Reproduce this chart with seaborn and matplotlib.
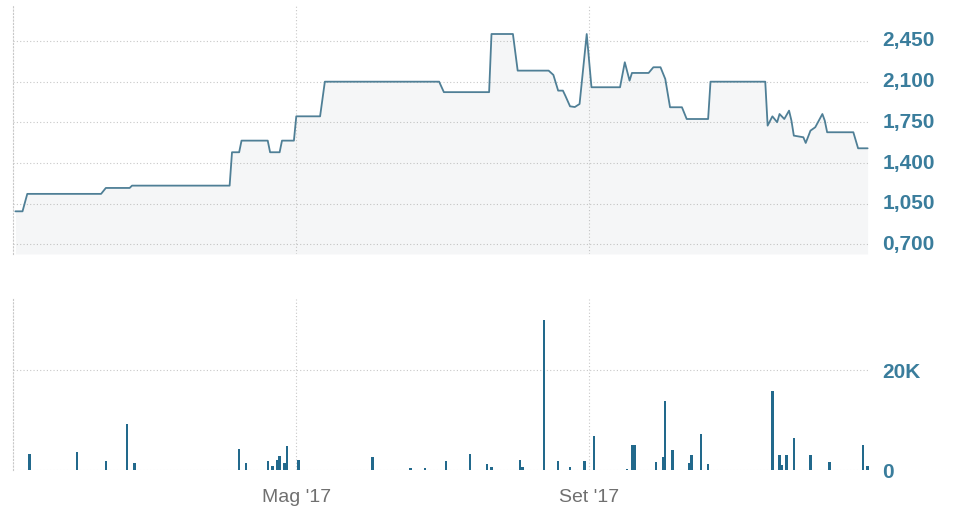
import matplotlib
matplotlib.use("Agg")
import matplotlib.pyplot as plt
import matplotlib.transforms as mtransforms
import seaborn as sns
import pandas as pd

# ---- data ----
price_dates = ["2017-01-03", "2017-01-06", "2017-01-08", "2017-02-08", "2017-02-10",
               "2017-02-20", "2017-02-21", "2017-04-03", "2017-04-04", "2017-04-07",
               "2017-04-08", "2017-04-19", "2017-04-20", "2017-04-24", "2017-04-25",
               "2017-04-30", "2017-05-01", "2017-05-11", "2017-05-13", "2017-06-30",
               "2017-07-02", "2017-07-21", "2017-07-22", "2017-07-31", "2017-08-02",
               "2017-08-15", "2017-08-17", "2017-08-19", "2017-08-21", "2017-08-22",
               "2017-08-24", "2017-08-26", "2017-08-28", "2017-08-31", "2017-09-02",
               "2017-09-14", "2017-09-16", "2017-09-18", "2017-09-19", "2017-09-26",
               "2017-09-28", "2017-10-01", "2017-10-03", "2017-10-05", "2017-10-10",
               "2017-10-12", "2017-10-21", "2017-10-22", "2017-11-14", "2017-11-15",
               "2017-11-17", "2017-11-19", "2017-11-20", "2017-11-22", "2017-11-24",
               "2017-11-25", "2017-11-26", "2017-11-30", "2017-12-01", "2017-12-03",
               "2017-12-05", "2017-12-08", "2017-12-09", "2017-12-10", "2017-12-21",
               "2017-12-23", "2017-12-27"]
price_values = [985, 985, 1135, 1135, 1186,
                1186, 1206, 1206, 1493, 1493,
                1593, 1593, 1493, 1493, 1593,
                1593, 1802, 1802, 2100, 2100,
                2010, 2010, 2510, 2510, 2195,
                2195, 2158, 2023, 2023, 1980,
                1888, 1882, 1908, 2510, 2052,
                2052, 2267, 2109, 2175, 2175,
                2224, 2224, 2123, 1880, 1880,
                1779, 1779, 2100, 2100, 1722,
                1802, 1751, 1822, 1779, 1851,
                1765, 1636, 1622, 1573, 1679,
                1708, 1822, 1765, 1665, 1665,
                1527, 1527]

volume_dates = ["2017-01-09", "2017-01-29", "2017-02-10", "2017-02-19", "2017-02-22",
                "2017-04-07", "2017-04-10", "2017-04-19", "2017-04-21", "2017-04-23",
                "2017-04-24", "2017-04-26", "2017-04-27", "2017-05-02", "2017-06-02",
                "2017-06-18", "2017-06-24", "2017-07-03", "2017-07-13", "2017-07-20",
                "2017-07-22", "2017-08-03", "2017-08-04", "2017-08-13", "2017-08-19",
                "2017-08-24", "2017-08-30", "2017-09-03", "2017-09-17", "2017-09-19",
                "2017-09-20", "2017-09-29", "2017-10-02", "2017-10-03", "2017-10-06",
                "2017-10-13", "2017-10-14", "2017-10-18", "2017-10-21", "2017-11-17",
                "2017-11-20", "2017-11-21", "2017-11-23", "2017-11-26", "2017-12-03",
                "2017-12-11", "2017-12-25", "2017-12-27"]
volume_values = [3300, 3600, 1850, 9200, 1400,
                 4150, 1400, 1850, 800, 2100,
                 2800, 1400, 4800, 2000, 2600,
                 400, 400, 1800, 3200, 1300,
                 700, 2000, 700, 30000, 1800,
                 600, 1800, 6800, 200, 5000,
                 5000, 1700, 2600, 13900, 4000,
                 1400, 3000, 7300, 1200, 15900,
                 3000, 1000, 3000, 6500, 3000,
                 1700, 5000, 900]

price_ticks = [700, 1050, 1400, 1750, 2100, 2450]
price_tick_labels = ["0,700", "1,050", "1,400", "1,750", "2,100", "2,450"]
volume_ticks = [0, 20000]
volume_tick_labels = ["0", "20K"]
x_tick_dates = ["2017-05-01", "2017-09-01"]
x_tick_labels = ["Mag '17", "Set '17"]

# ---- styling ----
sns.set_theme(style="white")
plt.rcParams["font.family"] = ["Liberation Sans", "DejaVu Sans"]

line_color = "#4f7f96"
bar_color = "#22698c"
label_color = "#3a7d9c"
grid_color = "#c8c8c8"

price_df = pd.DataFrame({"date": pd.to_datetime(price_dates), "price": price_values})
vol_df = pd.DataFrame({"date": pd.to_datetime(volume_dates), "volume": volume_values})

fig = plt.figure(figsize=(9.8, 5.1), dpi=100)
fig.patch.set_facecolor("white")

left, width = 13 / 980, 857 / 980
ax_p = fig.add_axes([left, 1 - 255 / 510, width, 250 / 510])
ax_v = fig.add_axes([left, 1 - 471 / 510, width, 171 / 510], sharex=ax_p)

ymin_p = 618
sns.lineplot(data=price_df, x="date", y="price", ax=ax_p, color=line_color,
             linewidth=1.3, estimator=None, zorder=3)
ax_p.fill_between(price_df["date"], price_df["price"], ymin_p,
                  color="#7f8c93", alpha=0.07, linewidth=0, zorder=1)

ax_v.bar(vol_df["date"], vol_df["volume"], width=1.0, color=bar_color,
         align="center", linewidth=0, zorder=3)

xlim = (pd.Timestamp("2017-01-02"), pd.Timestamp("2017-12-28"))
ax_p.set_xlim(*xlim)
ax_p.set_ylim(ymin_p, 2768)
ax_v.set_ylim(0, 34200)

xt = pd.to_datetime(x_tick_dates)
for ax in (ax_p, ax_v):
    ax.set_xlabel("")
    ax.set_ylabel("")
    for s in ("top", "right", "bottom"):
        ax.spines[s].set_visible(False)
    ax.spines["left"].set_color(grid_color)
    ax.spines["left"].set_linestyle((0, (1, 2)))
    ax.spines["left"].set_linewidth(0.8)
    ax.yaxis.tick_right()
    ax.tick_params(axis="y", length=0, pad=9, labelsize=15, labelcolor=label_color)
    ax.grid(True, axis="both", color=grid_color, linestyle=(0, (1, 2)), linewidth=0.8)
    ax.set_axisbelow(True)
    ax.set_xticks(xt)
    ax.set_facecolor("white")

ax_p.set_yticks(price_ticks)
ax_p.set_yticklabels(price_tick_labels, fontweight="bold")
ax_p.tick_params(axis="x", length=0, labelbottom=False)

ax_v.set_yticks(volume_ticks)
ax_v.set_yticklabels(volume_tick_labels, fontweight="bold")
ax_v.set_xticklabels(x_tick_labels)
ax_v.tick_params(axis="x", length=0, pad=13, labelsize=14, labelcolor="#707070")

# labels sit a little above their gridlines in the reference
shift = mtransforms.ScaledTranslation(0, 3 / 100, fig.dpi_scale_trans)
for lab in ax_p.get_yticklabels():
    lab.set_transform(lab.get_transform() + shift)

fig.savefig("out.png", dpi=100, facecolor="white")
